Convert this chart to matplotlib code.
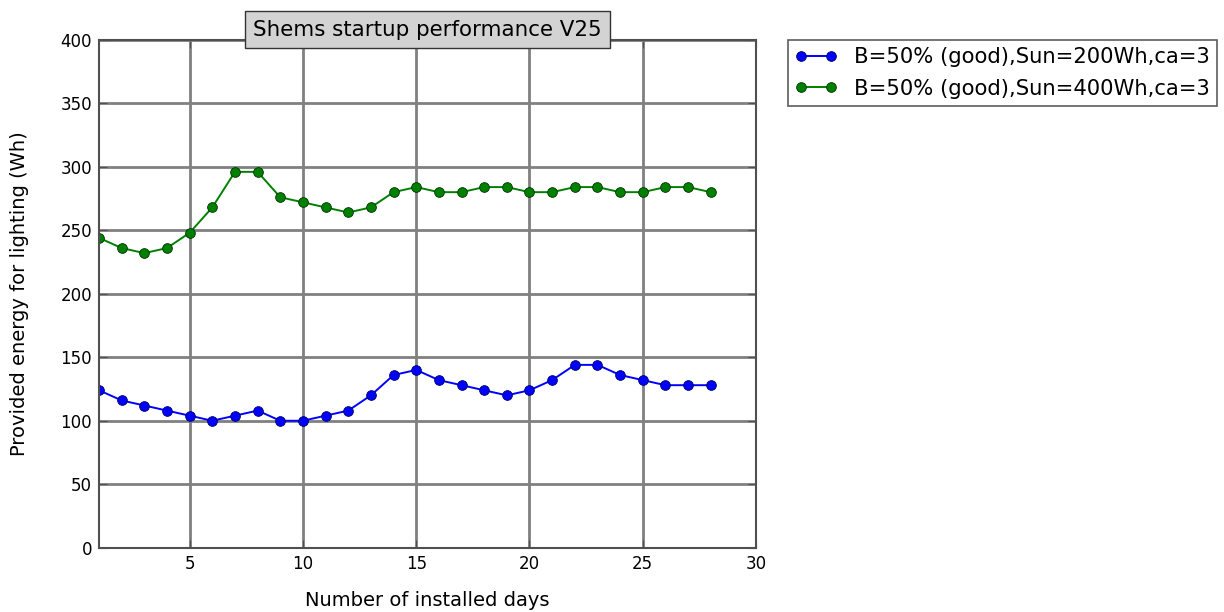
import matplotlib
matplotlib.use('Agg')
import matplotlib.pyplot as plt

plt.rcParams['font.family'] = ['DejaVu Sans']

# days since installation
days = list(range(1, 29))

# lighting energy per day (Wh) for the two sun scenarios
sun200 = [124, 116, 112, 108, 104, 100, 104, 108, 100, 100, 104, 108, 120, 136,
          140, 132, 128, 124, 120, 124, 132, 144, 144, 136, 132, 128, 128, 128]
sun400 = [244, 236, 232, 236, 248, 268, 296, 296, 276, 272, 268, 264, 268, 280,
          284, 280, 280, 284, 284, 280, 280, 284, 284, 280, 280, 284, 284, 280]

labels = ['B=50% (good),Sun=200Wh,ca=3', 'B=50% (good),Sun=400Wh,ca=3']

fig = plt.figure(figsize=(12.24, 6.12), dpi=100)
ax = fig.add_axes([0.0809, 0.105, 0.5368, 0.830])

ax.plot(days, sun200, '-o', color='blue', lw=1.4, ms=7, mec='#000060', mew=0.6,
        label=labels[0])
ax.plot(days, sun400, '-o', color='green', lw=1.4, ms=7, mec='#003000', mew=0.6,
        label=labels[1])

ax.set_xlim(1, 30)
ax.set_ylim(0, 400)
ax.set_xticks([5, 10, 15, 20, 25, 30])
ax.set_yticks(range(0, 401, 50))
ax.grid(True, color='#808080', lw=2, ls='-')
ax.set_axisbelow(True)
ax.tick_params(direction='in', top=True, right=True, length=6, labelsize=12,
               pad=5, color='#505050')
for s in ax.spines.values():
    s.set_color('#505050')
    s.set_linewidth(1.5)

ax.set_xlabel('Number of installed days', fontsize=14, labelpad=13)
ax.set_ylabel('Provided energy for lighting (Wh)', fontsize=14, labelpad=23)

ax.text(0.5, 1.0, 'Shems startup performance V25', transform=ax.transAxes,
        ha='center', va='bottom', fontsize=15.4,
        bbox=dict(facecolor='#d3d3d3', edgecolor='#333333', boxstyle='square,pad=0.4'))

leg = ax.legend(loc='upper left', bbox_to_anchor=(1.048, 1.0), fontsize=15.2,
                fancybox=False, edgecolor='#333333', numpoints=2, borderaxespad=0,
                handlelength=2.0, handletextpad=0.8, labelspacing=0.55,
                borderpad=0.35)
leg.get_frame().set_linewidth(1.2)

fig.savefig('out.png', dpi=100)
